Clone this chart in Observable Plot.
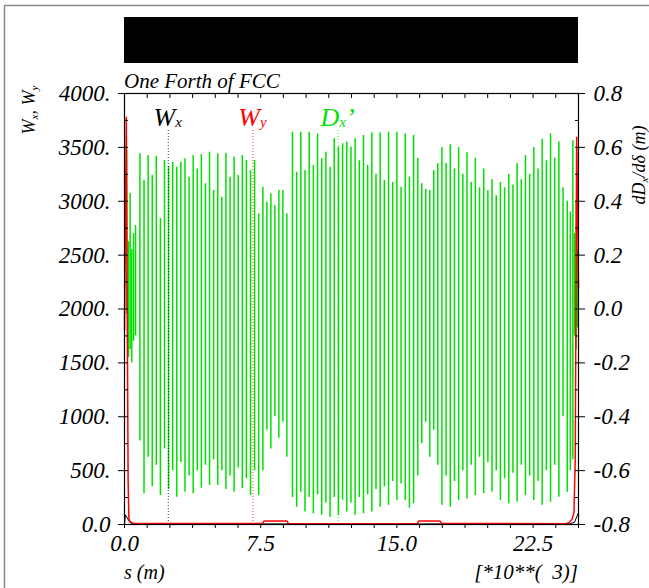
<!DOCTYPE html>
<html><head><meta charset="utf-8">
<script src="https://cdn.jsdelivr.net/npm/d3@7"></script>
<script src="https://cdn.jsdelivr.net/npm/@observablehq/plot@0.6"></script>
<style>
html,body{margin:0;padding:0;background:#fff;}
#chart{position:relative;width:649px;height:588px;overflow:hidden;}
svg text{font-style:italic;}
</style></head><body><div id="chart"></div>
<script>
// ---------- data ----------
const titleText = "One Forth of FCC";
const xTickValues = [0, 7.5, 15, 22.5];
const xTickLabels = ["0.0", "7.5", "15.0", "22.5"];
const xMinorTicks = d3.range(0, 25.01, 1.25);
const leftTickValues = [0, 500, 1000, 1500, 2000, 2500, 3000, 3500, 4000];
const leftTickLabels = ["0.0", "500.", "1000.", "1500.", "2000.", "2500.", "3000.", "3500.", "4000."];
const rightTickValues = [-0.8, -0.6, -0.4, -0.2, 0.0, 0.2, 0.4, 0.6, 0.8];
const rightTickLabels = ["-0.8", "-0.6", "-0.4", "-0.2", "0.0", "0.2", "0.4", "0.6", "0.8"];

// W_y (red) and W_x (black), left axis
const wyS = [0, 0.10, 0.16, 0.20, 0.24, 0.30, 0.50, 7.60, 7.68, 8.95, 9.03, 16.12, 16.20, 17.38, 17.46, 24.30, 24.50, 24.65, 24.75, 24.82, 24.90, 25.0];
const wyV = [1800, 3780, 1700, 400, 60, 25, 10, 10, 32, 32, 8, 8, 32, 32, 10, 8, 20, 50, 110, 600, 3595, 2200];
const wxS = [0, 0.05, 0.15, 0.30, 0.42, 12.0, 24.50, 24.78, 24.90, 24.97, 25.0];
const wxV = [5, 90, 60, 20, 6, 5, 6, 21, 70, 100, 90];

// dD_x/d(delta), right axis: spike tops and bottoms per region
const irLeftS = [0.12, 0.22, 0.31, 0.40, 0.50, 0.61];
const irLeftTop = [0.59, 0.25, 0.43, 0.22, 0.28, 0.31];
const irLeftBot = [-0.02, -0.18, -0.15, -0.20, -0.12, -0.10];

const arc1Start = 0.85, arc1Step = 0.2255;
const arc1Top = [0.576, 0.477, 0.570, 0.496, 0.566, 0.336, 0.551, 0.529, 0.545, 0.526, 0.545, 0.558, 0.489, 0.570, 0.520, 0.574, 0.465, 0.582, 0.440, 0.576, 0.415, 0.578, 0.489, 0.564, 0.496, 0.570, 0.551, 0.514, 0.551, 0.353];
const arc1Bot = [-0.49, -0.686, -0.55, -0.66, -0.58, -0.692, -0.52, -0.67, -0.60, -0.699, -0.57, -0.68, -0.62, -0.686, -0.60, -0.665, -0.58, -0.655, -0.56, -0.655, -0.60, -0.67, -0.62, -0.68, -0.59, -0.667, -0.63, -0.692, -0.60, -0.692];

const ds1Start = 7.62, ds1Step = 0.22;
const ds1Top = [0.452, 0.396, 0.428, 0.384, 0.440, 0.440, 0.353];
const ds1Bot = [-0.60, -0.45, -0.52, -0.40, -0.48, -0.42, -0.55];

const arc2Start = 9.25, arc2Step = 0.23;
const arc2Top = [0.656, 0.508, 0.656, 0.514, 0.656, 0.533, 0.650, 0.558, 0.582, 0.526, 0.632, 0.601, 0.613, 0.619, 0.601, 0.632, 0.55, 0.644, 0.533, 0.654, 0.50, 0.654, 0.477, 0.656, 0.47, 0.656, 0.452, 0.650, 0.489, 0.644];
const arc2Bot = [-0.70, -0.736, -0.68, -0.754, -0.70, -0.760, -0.69, -0.766, -0.72, -0.773, -0.70, -0.766, -0.71, -0.754, -0.72, -0.766, -0.70, -0.760, -0.69, -0.754, -0.67, -0.736, -0.66, -0.729, -0.64, -0.711, -0.65, -0.711, -0.74, -0.723];

const ds2Start = 16.15, ds2Step = 0.22;
const ds2Top = [0.56, 0.465, 0.445, 0.44, 0.514, 0.539];
const ds2Bot = [-0.62, -0.50, -0.42, -0.55, -0.45, -0.58];

const arc3Start = 17.48, arc3Step = 0.23;
const arc3Top = [0.60, 0.54, 0.61, 0.52, 0.60, 0.50, 0.58, 0.47, 0.56, 0.45, 0.52, 0.44, 0.48, 0.42, 0.47, 0.45, 0.50, 0.46, 0.54, 0.48, 0.57, 0.50, 0.60, 0.52, 0.63, 0.55, 0.65, 0.56, 0.62, 0.45, 0.40];
const arc3Bot = [-0.729, -0.62, -0.736, -0.64, -0.711, -0.60, -0.705, -0.58, -0.692, -0.55, -0.686, -0.57, -0.680, -0.60, -0.711, -0.63, -0.723, -0.61, -0.717, -0.58, -0.692, -0.62, -0.711, -0.64, -0.729, -0.60, -0.717, -0.58, -0.699, -0.40, -0.680];

const irRightS = [24.55, 24.69, 24.78, 24.87, 24.95];
const irRightTop = [0.36, 0.625, 0.28, 0.40, 0.22];
const irRightBot = [-0.60, -0.56, -0.10, -0.15, -0.07];

// legend labels with leader lines
const legendS = [2.41, 7.07, 11.76];
const legendNames = ["W", "W", "D"];
const legendSubs = ["x", "y", "x"];
const legendTail = ["", "", "\u2019"];
const legendColors = ["#000000", "#ff0000", "#00e000"];
const legendTopW = 3675;

// ---------- build ----------
const GREEN = "#00e000";
const toLeft = v => (v + 0.8) * 2500; // right-axis value -> left-axis units
const lattice = (start, step, tops, bots) => tops.map((t, i) => ({s: start + i * step, top: t, bot: bots[i]}));
const listed = (ss, tops, bots) => ss.map((s, i) => ({s, top: tops[i], bot: bots[i]}));
const spikes = [
  ...listed(irLeftS, irLeftTop, irLeftBot),
  ...lattice(arc1Start, arc1Step, arc1Top, arc1Bot),
  ...lattice(ds1Start, ds1Step, ds1Top, ds1Bot),
  ...lattice(arc2Start, arc2Step, arc2Top, arc2Bot),
  ...lattice(ds2Start, ds2Step, ds2Top, ds2Bot),
  ...lattice(arc3Start, arc3Step, arc3Top, arc3Bot),
  ...listed(irRightS, irRightTop, irRightBot)
];
const wy = wyS.map((s, i) => ({s, w: wyV[i]}));
const wx = wxS.map((s, i) => ({s, w: wxV[i]}));
const legend = legendS.map((s, i) => ({s, color: legendColors[i]}));
const leftMinor = d3.range(0, 4001, 250);
const leftLab = new Map(leftTickValues.map((v, i) => [v, leftTickLabels[i]]));
const rightW = rightTickValues.map(toLeft);
const rightLab = new Map(rightW.map((w, i) => [Math.round(w), rightTickLabels[i]]));
const xLab = new Map(xTickValues.map((v, i) => [v, xTickLabels[i]]));

const FONT = "'Liberation Serif', 'DejaVu Serif', serif";
const plot = Plot.plot({
  width: 649, height: 588,
  marginLeft: 124, marginRight: 71, marginTop: 93, marginBottom: 64,
  x: {domain: [0, 25], axis: null},
  y: {domain: [0, 4000], axis: null},
  style: {fontFamily: FONT, fontSize: "22px", color: "black", background: "white", overflow: "visible"},
  marks: [
    Plot.ruleX(spikes, {x: "s", y1: d => toLeft(d.bot), y2: d => toLeft(d.top), stroke: GREEN, strokeWidth: 1.5}),
    Plot.ruleX(legend, {x: "s", y1: 0, y2: legendTopW, stroke: "color", strokeWidth: 1, strokeDasharray: "1,2", strokeOpacity: 0.8}),
    Plot.line(wx, {x: "s", y: "w", stroke: "black", strokeWidth: 1}),
    Plot.line(wy, {x: "s", y: "w", stroke: "#ff0000", strokeWidth: 1.5}),
    Plot.frame({stroke: "black", strokeWidth: 1.2}),
    // left axis
    Plot.axisY(leftTickValues, {anchor: "left", tickSize: 6, tickPadding: 8, tickFormat: d => leftLab.get(d), fontSize: 23, label: null}),
    Plot.axisY(leftMinor, {anchor: "left", tickSize: 4, dx: 4, tickFormat: () => "", label: null}),
    // right axis
    Plot.axisY(rightW, {anchor: "right", tickSize: 6, tickPadding: 9, tickFormat: d => rightLab.get(Math.round(d)), fontSize: 23, label: null}),
    Plot.axisY(leftMinor, {anchor: "right", tickSize: 4, dx: -4, tickFormat: () => "", label: null}),
    // bottom & top axes
    Plot.axisX(xMinorTicks, {anchor: "bottom", tickSize: 4, tickPadding: 6, tickFormat: d => xLab.get(d) ?? "", fontSize: 23, label: null}),
    Plot.axisX(xMinorTicks, {anchor: "top", tickSize: 4, dy: 4, tickFormat: () => "", label: null})
  ]
});
document.getElementById("chart").appendChild(plot);

// ---------- extra text via scales ----------
const svg = d3.select(plot);
const xs = plot.scale("x"), ys = plot.scale("y");
// outer gray border
svg.insert("rect", ":first-child").attr("x", 4.5).attr("y", 5.5).attr("width", 700).attr("height", 700)
  .attr("fill", "none").attr("stroke", "#8a8a8a").attr("stroke-width", 1.5);
// redacted title block
svg.append("rect").attr("x", xs.apply(0)).attr("y", 17).attr("width", xs.apply(25) - xs.apply(0)).attr("height", 46).attr("fill", "black");
// subtitle
svg.append("text").attr("x", xs.apply(0)).attr("y", 88).attr("text-anchor", "start").attr("font-size", 21).attr("font-family", FONT).text(titleText);
// legend labels
legend.forEach((d, i) => {
  const t = svg.append("text").attr("x", xs.apply(d.s)).attr("y", ys.apply(legendTopW) - 2)
    .attr("text-anchor", "middle").attr("font-family", FONT).attr("font-size", 26).attr("fill", legendColors[i]);
  t.append("tspan").text(legendNames[i]);
  t.append("tspan").attr("font-size", 15).attr("dy", 1).text(legendSubs[i]);
  if (legendTail[i]) t.append("tspan").attr("dy", -1).text(legendTail[i]);
});
// left axis title
const lt = svg.append("text").attr("transform", "translate(35,110) rotate(-90)").attr("text-anchor", "middle")
  .attr("font-family", FONT).attr("font-size", 18);
lt.append("tspan").text("W");
lt.append("tspan").attr("font-size", 11).attr("dy", 3).text("x");
lt.append("tspan").attr("dy", -3).text(", W");
lt.append("tspan").attr("font-size", 11).attr("dy", 3).text("y");
// right axis title
const rt = svg.append("text").attr("transform", "translate(645,165) rotate(-90)").attr("text-anchor", "middle")
  .attr("font-family", FONT).attr("font-size", 18);
rt.append("tspan").text("dD");
rt.append("tspan").attr("font-size", 11).attr("dy", 3).text("x");
rt.append("tspan").attr("dy", -3).text("/d\u03b4 (m)");
// x axis titles
svg.append("text").attr("x", xs.apply(0)).attr("y", 579).attr("text-anchor", "start").attr("font-family", FONT).attr("font-size", 20).text("s (m)");
svg.append("text").attr("x", xs.apply(25)).attr("y", 579).attr("text-anchor", "end").attr("font-family", FONT)
  .attr("font-size", 21).style("white-space", "pre").text("[*10**(  3)]");
</script></body></html>
